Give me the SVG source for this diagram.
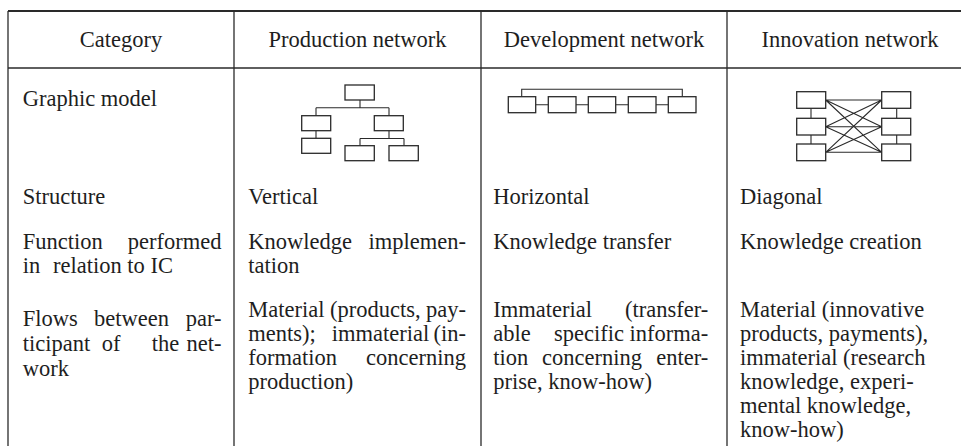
<svg xmlns="http://www.w3.org/2000/svg" width="961" height="446" viewBox="0 0 961 446">
<rect width="961" height="446" fill="#fff"/>
<g id="grid" stroke="#2a2a2a" stroke-width="1.3" fill="none">
<line x1="8" y1="11" x2="961" y2="11" stroke-width="1.8"/>
<line x1="8" y1="68" x2="961" y2="68"/>
<line x1="8" y1="11" x2="8" y2="446"/>
<line x1="234" y1="11" x2="234" y2="446"/>
<line x1="481" y1="11" x2="481" y2="446"/>
<line x1="727" y1="11" x2="727" y2="446"/>
</g>
<g id="header" font-family="Times New Roman" font-size="22.5" text-anchor="middle" fill="#1e1e1e">
<text x="121" y="47" font-family="Times New Roman">Category</text>
<text x="357.5" y="47" font-family="Times New Roman">Production network</text>
<text x="604" y="47" font-family="Times New Roman">Development network</text>
<text x="850" y="47" font-family="Times New Roman">Innovation network</text>
</g>
<g id="rows" font-family="Times New Roman" font-size="22.5" fill="#1e1e1e">
<text x="22.7" y="106" font-family="Times New Roman">Graphic model</text>
<text x="22.7" y="204" font-family="Times New Roman">Structure</text>
<text x="248.3" y="204" font-family="Times New Roman">Vertical</text>
<text x="493.3" y="204" font-family="Times New Roman">Horizontal</text>
<text x="740" y="204" font-family="Times New Roman">Diagonal</text>
<text x="22.7" y="249" font-family="Times New Roman">Function</text>
<text x="221.5" y="249" font-family="Times New Roman" text-anchor="end">performed</text>
<text x="22.7" y="273" font-family="Times New Roman">in</text>
<text x="53" y="273" font-family="Times New Roman">relation to IC</text>
<text x="248.3" y="249" font-family="Times New Roman">Knowledge</text>
<text x="466" y="249" font-family="Times New Roman" text-anchor="end">implemen-</text>
<text x="248.3" y="273" font-family="Times New Roman">tation</text>
<text x="493.3" y="249" font-family="Times New Roman">Knowledge transfer</text>
<text x="740" y="249" font-family="Times New Roman">Knowledge creation</text>
<text x="22.7" y="326" font-family="Times New Roman">Flows</text>
<text x="94" y="326" font-family="Times New Roman">between</text>
<text x="221.5" y="326" font-family="Times New Roman" text-anchor="end">par-</text>
<text x="22.7" y="351" font-family="Times New Roman">ticipant</text>
<text x="101.7" y="351" font-family="Times New Roman">of</text>
<text x="151.7" y="351" font-family="Times New Roman">the</text>
<text x="221.5" y="351" font-family="Times New Roman" text-anchor="end">net-</text>
<text x="22.7" y="376" font-family="Times New Roman">work</text>
<text x="248.3" y="317" font-family="Times New Roman">Material</text>
<text x="330" y="317" font-family="Times New Roman">(products,</text>
<text x="466" y="317" font-family="Times New Roman" text-anchor="end">pay-</text>
<text x="248.3" y="341" font-family="Times New Roman">ments);</text>
<text x="331.8" y="341" font-family="Times New Roman">immaterial</text>
<text x="466" y="341" font-family="Times New Roman" text-anchor="end">(in-</text>
<text x="248.3" y="365" font-family="Times New Roman">formation</text>
<text x="466" y="365" font-family="Times New Roman" text-anchor="end">concerning</text>
<text x="248.3" y="389" font-family="Times New Roman">production)</text>
<text x="493.3" y="317" font-family="Times New Roman">Immaterial</text>
<text x="708.3" y="317" font-family="Times New Roman" text-anchor="end">(transfer-</text>
<text x="493.3" y="341" font-family="Times New Roman">able</text>
<text x="554" y="341" font-family="Times New Roman">specific</text>
<text x="708.3" y="341" font-family="Times New Roman" text-anchor="end">informa-</text>
<text x="493.3" y="365" font-family="Times New Roman">tion</text>
<text x="542" y="365" font-family="Times New Roman">concerning</text>
<text x="708.3" y="365" font-family="Times New Roman" text-anchor="end">enter-</text>
<text x="493.3" y="389" font-family="Times New Roman">prise, know-how)</text>
<text x="740" y="317" font-family="Times New Roman">Material (innovative</text>
<text x="740" y="341" font-family="Times New Roman">products, payments),</text>
<text x="740" y="365" font-family="Times New Roman">immaterial (research</text>
<text x="740" y="389" font-family="Times New Roman">knowledge, experi-</text>
<text x="740" y="413" font-family="Times New Roman">mental knowledge,</text>
<text x="740" y="437" font-family="Times New Roman">know-how)</text>
</g>
<g id="production-model">
<path stroke="#2a2a2a" stroke-width="1.1" fill="none" d="M360 100V107.7M316 107.7H389M316 107.7V116M389 107.7V116M316 130.7V138.3M389 130.7V138.5M360 138.5H404M360 138.5V145.7M404 138.5V145.7"/>
<g fill="#fff" stroke="#2a2a2a" stroke-width="1.3">
<rect x="345" y="85" width="29.3" height="15"/>
<rect x="301.7" y="115.7" width="29" height="15"/>
<rect x="374.3" y="115.7" width="29" height="15"/>
<rect x="301.7" y="138.3" width="29" height="15"/>
<rect x="345" y="145.7" width="29.3" height="15"/>
<rect x="389" y="145.7" width="29.3" height="15"/>
</g>
</g>
<g id="development-model">
<path stroke="#2a2a2a" stroke-width="1.1" fill="none" d="M521.7 96.7V89.3H682.3V96.7M535.7 104.7H548.3M576 104.7H588.3M615.7 104.7H628.3M656 104.7H668.3"/>
<g fill="#fff" stroke="#2a2a2a" stroke-width="1.3">
<rect x="508.3" y="96.7" width="27.4" height="16"/>
<rect x="548.3" y="96.7" width="27.7" height="16"/>
<rect x="588.3" y="96.7" width="27.4" height="16"/>
<rect x="628.3" y="96.7" width="27.7" height="16"/>
<rect x="668.3" y="96.7" width="27.7" height="16"/>
</g>
</g>
<g id="innovation-model">
<g stroke="#2a2a2a" stroke-width="1.1" fill="none">
<path d="M811 108.3V118.3M811 135V144M896.7 108.3V118.3M896.7 135V144"/>
<path d="M825.7 100L881.7 100M825.7 100L881.7 126.7M825.7 100L881.7 152.3M825.7 126.7L881.7 100M825.7 126.7L881.7 126.7M825.7 126.7L881.7 152.3M825.7 152.3L881.7 100M825.7 152.3L881.7 126.7M825.7 152.3L881.7 152.3"/>
</g>
<g fill="#fff" stroke="#2a2a2a" stroke-width="1.3">
<rect x="796.7" y="91.7" width="29" height="16.6"/>
<rect x="796.7" y="118.3" width="29" height="16.7"/>
<rect x="796.7" y="144" width="29" height="16.7"/>
<rect x="881.7" y="91.7" width="29" height="16.6"/>
<rect x="881.7" y="118.3" width="29" height="16.7"/>
<rect x="881.7" y="144" width="29" height="16.7"/>
</g>
</g>
</svg>
